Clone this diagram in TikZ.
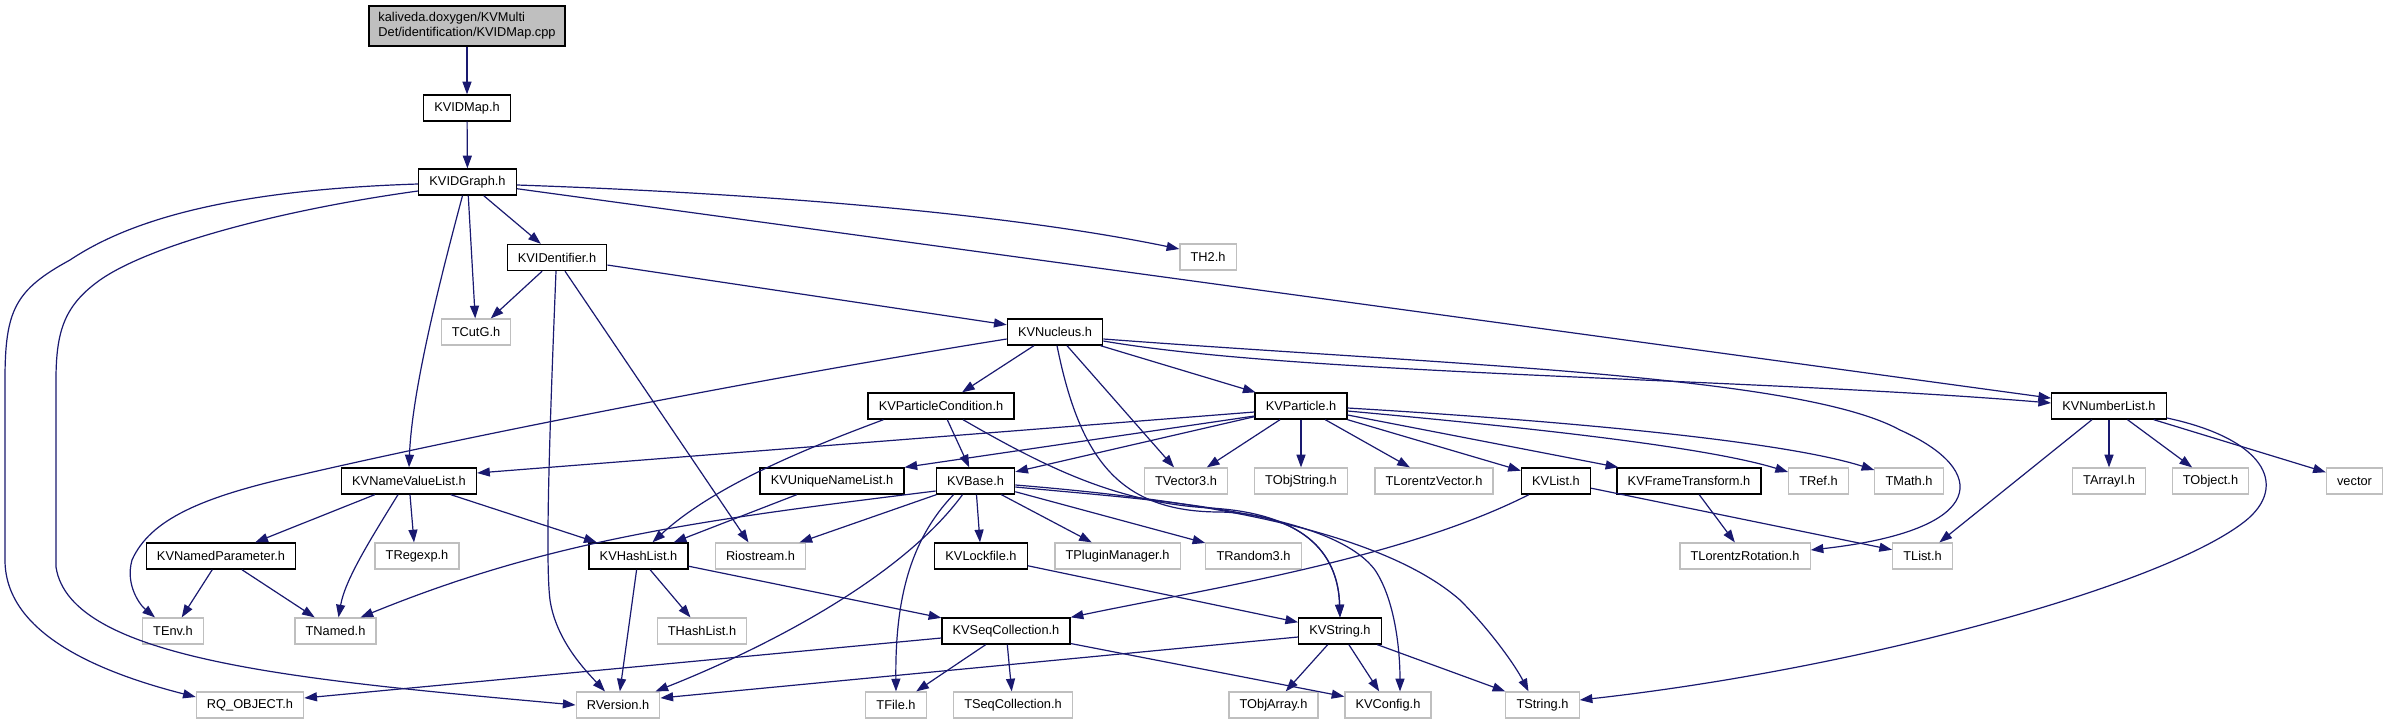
\documentclass[tikz,border=0pt]{standalone}
\usepackage{fontspec}
\setmainfont{Liberation Sans}
\usetikzlibrary{arrows.meta,calc}
\definecolor{edgeblue}{HTML}{191970}
\definecolor{extgray}{HTML}{BFBFBF}
\begin{document}
\begin{tikzpicture}[x=0.75pt,y=-0.75pt,
  every node/.style={font=\fontsize{9.6}{11.3}\selectfont, inner xsep=8pt, inner ysep=0pt, minimum height=19.5pt, fill=white},
  kv/.style={draw=black, line width=1pt},
  ext/.style={draw=extgray, line width=0.9pt},
  rootbox/.style={draw=black, line width=1pt, fill=extgray, align=left, minimum height=30pt, inner xsep=7pt},
  e/.style={draw=edgeblue, line width=0.9pt, -{Triangle[length=9.5pt,width=6.75pt]}}]
\useasboundingbox[fill=white] (0,0) rectangle (2389,724);
% nodes
\node[rootbox] (root) at (467,26) {kaliveda.doxygen/KVMulti\\Det/identification/KVIDMap.cpp};
\node[kv] (KVIDMap) at (467,108) {KVIDMap.h};
\node[kv] (KVIDGraph) at (467.5,182) {KVIDGraph.h};
\node[ext] (TH2) at (1208,257) {TH2.h};
\node[kv] (KVIDentifier) at (557,257.5) {KVIDentifier.h};
\node[ext] (TCutG) at (476,332) {TCutG.h};
\node[kv] (KVNucleus) at (1055,332) {KVNucleus.h};
\node[kv] (KVParticleCondition) at (941,406) {KVParticleCondition.h};
\node[kv] (KVParticle) at (1301,406) {KVParticle.h};
\node[kv] (KVNumberList) at (2109,406) {KVNumberList.h};
\node[kv] (KVNameValueList) at (409,481) {KVNameValueList.h};
\node[kv] (KVUniqueNameList) at (832,481) {KVUniqueNameList.h};
\node[kv] (KVBase) at (975.5,481) {KVBase.h};
\node[ext] (TVector3) at (1186,481) {TVector3.h};
\node[ext] (TObjString) at (1301,481) {TObjString.h};
\node[ext] (TLorentzVector) at (1434,481) {TLorentzVector.h};
\node[kv] (KVList) at (1556,481) {KVList.h};
\node[kv] (KVFrameTransform) at (1689,481) {KVFrameTransform.h};
\node[ext] (TRef) at (1818.5,481) {TRef.h};
\node[ext] (TMath) at (1909,481) {TMath.h};
\node[ext] (TArrayI) at (2109,481) {TArrayI.h};
\node[ext] (TObject) at (2210.5,481) {TObject.h};
\node[ext] (vector) at (2354.5,481) {vector};
\node[kv] (KVNamedParameter) at (221,556) {KVNamedParameter.h};
\node[ext] (TRegexp) at (417,556) {TRegexp.h};
\node[kv] (KVHashList) at (638.5,556) {KVHashList.h};
\node[ext] (Riostream) at (760.5,556) {Riostream.h};
\node[kv] (KVLockfile) at (981,556) {KVLockfile.h};
\node[ext] (TPluginManager) at (1117.5,556) {TPluginManager.h};
\node[ext] (TRandom3) at (1253.5,556) {TRandom3.h};
\node[ext] (TLorentzRotation) at (1745,556) {TLorentzRotation.h};
\node[ext] (TList) at (1922.5,556) {TList.h};
\node[ext] (TEnv) at (173,631) {TEnv.h};
\node[ext] (TNamed) at (335.5,631) {TNamed.h};
\node[ext] (THashList) at (702,631) {THashList.h};
\node[kv] (KVSeqCollection) at (1006,631) {KVSeqCollection.h};
\node[kv] (KVString) at (1340,631) {KVString.h};
\node[ext] (RQOBJECT) at (250,705) {RQ\_OBJECT.h};
\node[ext] (RVersion) at (618,705) {RVersion.h};
\node[ext] (TFile) at (896,705) {TFile.h};
\node[ext] (TSeqCollection) at (1013,705) {TSeqCollection.h};
\node[ext] (TObjArray) at (1273.5,705) {TObjArray.h};
\node[ext] (KVConfig) at (1388,705) {KVConfig.h};
\node[ext] (TString) at (1542.5,705) {TString.h};
% edges
\draw[e] (root) -- (KVIDMap);
\draw[e] (KVIDMap) -- (KVIDGraph);
\draw[e] (KVIDGraph) -- (KVIDentifier);
\draw[e] (KVIDGraph) -- (TCutG);
\draw[e] ($(KVIDGraph.east)+(0,3)$) .. controls (750,193) and (1000,212) .. ($(TH2.west)+(0,-8)$);
\draw[e] (KVIDGraph) -- (KVNumberList);
\draw[e] ($(KVIDGraph.south)+(-5,0)$) .. controls (440,280) and (412,390) .. (KVNameValueList.north);
\draw[e] ($(KVIDGraph.west)+(0,2)$) .. controls (230,190) and (130,220) .. (70,260) .. controls (15,290) and (5,310) .. (5,380) -- (5,560) .. controls (5,630) and (90,670) .. ($(RQOBJECT.west)+(0,-8)$);
\draw[e] ($(KVIDGraph.west)+(0,9)$) .. controls (280,210) and (150,245) .. (100,280) .. controls (65,305) and (56,330) .. (56,380) -- (56,567) .. controls (70,660) and (300,680) .. (RVersion.west);
\draw[e] (KVIDentifier) -- (TCutG);
\draw[e] ($(KVIDentifier.south)+(-1,0)$) .. controls (550,420) and (545,560) .. (550,600) .. controls (556,640) and (585,670) .. ($(RVersion.north)+(-13,0)$);
\draw[e] ($(KVIDentifier.south)+(8,0)$) -- ($(Riostream.north)+(-12,0)$);
\draw[e] (KVIDentifier) -- (KVNucleus);
\draw[e] ($(KVNucleus.west)+(0,7)$) .. controls (750,380) and (450,440) .. (300,475) .. controls (200,497) and (150,520) .. (132,560) .. controls (125,585) and (140,605) .. ($(TEnv.north)+(-18,0)$);
\draw[e] (KVNucleus) -- (KVParticleCondition);
\draw[e] ($(KVNucleus.south)+(2,0)$) .. controls (1080,460) and (1120,512) .. (1220,512) .. controls (1300,514) and (1338,550) .. (KVString.north);
\draw[e] (KVNucleus) -- (TVector3);
\draw[e] (KVNucleus) -- (KVParticle);
\draw[e] ($(KVNucleus.east)+(0,9)$) .. controls (1300,375) and (1750,378) .. ($(KVNumberList.west)+(0,-3)$);
\draw[e] ($(KVNucleus.east)+(0,7)$) .. controls (1450,365) and (1800,375) .. (1900,430) .. controls (1990,470) and (1990,530) .. ($(TLorentzRotation.east)+(0,-6)$);
\draw[e] ($(KVParticleCondition.south west)+(16,0)$) .. controls (830,440) and (720,480) .. ($(KVHashList.north)+(14,0)$);
\draw[e] (KVParticleCondition) -- (KVBase);
\draw[e] ($(KVParticleCondition.south)+(22,0)$) .. controls (1050,470) and (1120,503) .. (1210,508) .. controls (1300,513) and (1338,550) .. (KVString.north);
\draw[e] ($(KVParticle.west)+(0,6)$) -- ($(KVNameValueList.east)+(0,-8)$);
\draw[e] ($(KVParticle.west)+(0,10)$) -- (KVUniqueNameList.north east);
\draw[e] (KVParticle) -- (KVBase);
\draw[e] (KVParticle) -- (TVector3);
\draw[e] (KVParticle) -- (TObjString);
\draw[e] (KVParticle) -- (TLorentzVector);
\draw[e] (KVParticle) -- (KVList);
\draw[e] (KVParticle) -- (KVFrameTransform);
\draw[e] ($(KVParticle.east)+(0,5)$) .. controls (1500,425) and (1700,445) .. ($(TRef.west)+(0,-9)$);
\draw[e] ($(KVParticle.east)+(0,2)$) .. controls (1550,420) and (1780,440) .. ($(TMath.west)+(0,-11)$);
\draw[e] (KVNameValueList) -- (KVNamedParameter);
\draw[e] ($(KVNameValueList.south)+(-11,0)$) .. controls (370,540) and (345,580) .. ($(TNamed.north)+(3,0)$);
\draw[e] ($(KVNameValueList.south)+(1,0)$) -- ($(TRegexp.north)+(-3,0)$);
\draw[e] (KVNameValueList) -- (KVHashList);
\draw[e] (KVNamedParameter) -- (TEnv);
\draw[e] (KVNamedParameter) -- (TNamed);
\draw[e] (KVUniqueNameList) -- (KVHashList);
\draw[e] ($(KVBase.west)+(0,10)$) .. controls (700,520) and (550,540) .. ($(TNamed.north)+(25,0)$);
\draw[e] (KVBase) -- (Riostream);
\draw[e] ($(KVBase.south)+(-13,0)$) .. controls (900,580) and (760,650) .. ($(RVersion.north east)+(-5,0)$);
\draw[e] ($(KVBase.south)+(-22,0)$) .. controls (910,540) and (895,600) .. (TFile.north);
\draw[e] (KVBase) -- (KVLockfile);
\draw[e] (KVBase) -- (TPluginManager);
\draw[e] (KVBase) -- (TRandom3);
\draw[e] ($(KVBase.east)+(0,6)$) .. controls (1150,500) and (1330,510) .. (1375,570) .. controls (1395,600) and (1400,650) .. ($(KVConfig.north)+(12,0)$);
\draw[e] ($(KVBase.east)+(0,4)$) .. controls (1200,500) and (1380,530) .. (1460,600) .. controls (1490,630) and (1515,665) .. ($(TString.north)+(-14,0)$);
\draw[e] (KVHashList) -- (RVersion);
\draw[e] (KVHashList) -- (THashList);
\draw[e] (KVHashList) -- (KVSeqCollection);
\draw[e] (KVLockfile) -- (KVString);
\draw[e] ($(KVList.south west)+(8,0)$) .. controls (1400,560) and (1200,590) .. (KVSeqCollection.north east);
\draw[e] (KVList) -- (TList);
\draw[e] (KVFrameTransform) -- (TLorentzRotation);
\draw[e] (KVNumberList) -- (TList);
\draw[e] (KVNumberList) -- (TArrayI);
\draw[e] (KVNumberList) -- (TObject);
\draw[e] (KVNumberList) -- (vector);
\draw[e] ($(KVNumberList.east)+(0,12)$) .. controls (2270,440) and (2290,490) .. (2240,525) .. controls (2150,590) and (1850,670) .. ($(TString.east)+(0,-5)$);
\draw[e] ($(KVSeqCollection.west)+(0,7)$) -- ($(RQOBJECT.east)+(0,-7)$);
\draw[e] (KVSeqCollection) -- (TFile);
\draw[e] (KVSeqCollection) -- (TSeqCollection);
\draw[e] (KVSeqCollection) -- (KVConfig);
\draw[e] ($(KVString.west)+(0,6)$) -- ($(RVersion.east)+(0,-7)$);
\draw[e] (KVString) -- (TObjArray);
\draw[e] (KVString) -- (KVConfig);
\draw[e] (KVString) -- (TString);
\end{tikzpicture}
\end{document}
